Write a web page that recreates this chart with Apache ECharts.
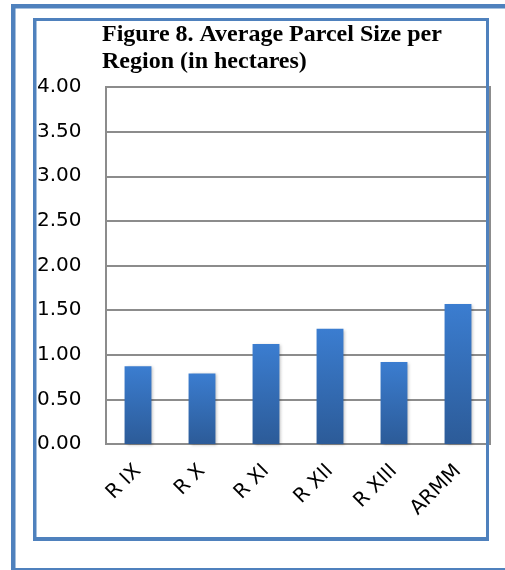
<!DOCTYPE html>
<html>
<head>
<meta charset="utf-8">
<script src="https://cdn.jsdelivr.net/npm/echarts@6/dist/echarts.min.js"></script>
<style>
  html, body { margin: 0; padding: 0; background: #fff; }
  #chart { width: 505px; height: 570px; }
</style>
</head>
<body>
<div id="chart"></div>
<script>
var regions = ['R IX', 'R X', 'R XI', 'R XII', 'R XIII', 'ARMM'];
var parcelSize = [0.87, 0.79, 1.12, 1.29, 0.92, 1.57];

var frameBlue = '#4f81bd';
var chart = echarts.init(document.getElementById('chart'));

var option = {
    animation: false,
    backgroundColor: '#fff',
    title: {
        text: 'Figure 8. Average Parcel Size per\nRegion (in hectares)',
        left: 97,
        top: 16,
        textStyle: {
            fontFamily: 'Liberation Serif',
            fontWeight: 'bold',
            fontSize: 24,
            lineHeight: 27,
            color: '#000'
        }
    },
    grid: {
        left: 106,
        top: 87,
        right: 15,
        bottom: 126,
        show: true,
        borderColor: '#8c8c8c',
        borderWidth: 2
    },
    xAxis: {
        type: 'category',
        data: regions,
        axisTick: { show: false },
        axisLine: { lineStyle: { color: '#8c8c8c', width: 2 } },
        axisLabel: {
            rotate: 45,
            margin: 24,
            color: '#000',
            fontFamily: 'DejaVu Sans',
            fontSize: 20
        }
    },
    yAxis: {
        type: 'value',
        min: 0,
        max: 4,
        interval: 0.5,
        axisLine: { show: true, lineStyle: { color: '#8c8c8c', width: 2 } },
        axisTick: { show: false },
        splitLine: { lineStyle: { color: '#8c8c8c', width: 2 } },
        axisLabel: {
            formatter: function (v) { return v.toFixed(2); },
            align: 'left',
            margin: 69,
            color: '#000',
            fontFamily: 'DejaVu Sans',
            fontSize: 20
        }
    },
    series: [
        {
            name: 'Average Parcel Size',
            type: 'bar',
            data: parcelSize,
            barWidth: '42%',
            itemStyle: {
                color: new echarts.graphic.LinearGradient(0, 0, 0, 1, [
                    { offset: 0, color: '#3b7dd0' },
                    { offset: 1, color: '#2c5b98' }
                ]),
                shadowColor: 'rgba(0,0,0,0.25)',
                shadowBlur: 3,
                shadowOffsetX: 2,
                shadowOffsetY: 1
            }
        }
    ],
    graphic: [
        // outer frame
        { type: 'rect', z: 100, shape: { x: 11, y: 4, width: 4.5, height: 566 }, style: { fill: frameBlue } },
        { type: 'rect', z: 100, shape: { x: 11, y: 4, width: 494, height: 4.5 }, style: { fill: frameBlue } },
        { type: 'rect', z: 100, shape: { x: 11, y: 568, width: 494, height: 2 }, style: { fill: frameBlue } },
        // inner frame
        { type: 'rect', z: 100, shape: { x: 33, y: 18, width: 3.5, height: 523 }, style: { fill: frameBlue } },
        { type: 'rect', z: 100, shape: { x: 33, y: 18, width: 456, height: 3 }, style: { fill: frameBlue } },
        { type: 'rect', z: 100, shape: { x: 486, y: 18, width: 3, height: 523 }, style: { fill: frameBlue } },
        { type: 'rect', z: 100, shape: { x: 33, y: 537, width: 456, height: 4 }, style: { fill: frameBlue } }
    ]
};

chart.setOption(option);
</script>
</body>
</html>
